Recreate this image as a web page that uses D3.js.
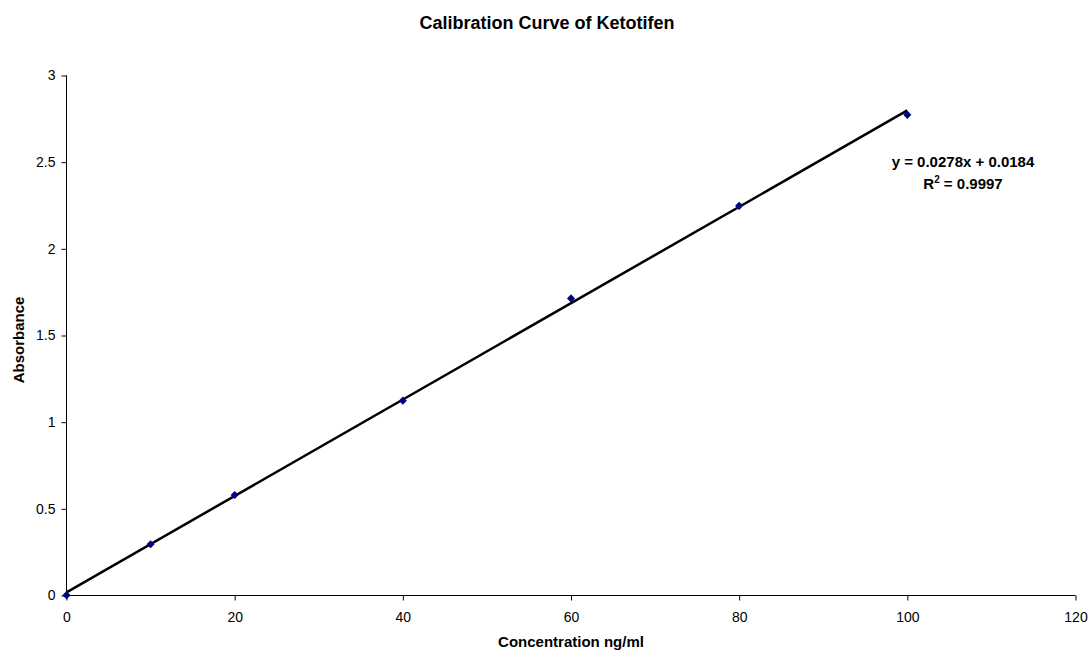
<!DOCTYPE html>
<html><head><meta charset="utf-8">
<script src="https://cdn.jsdelivr.net/npm/d3@7/dist/d3.min.js"></script>
<style>body{margin:0;background:#fff}svg{display:block}text{font-family:Arial,"Liberation Sans",sans-serif}</style>
</head><body>
<svg id="c" width="1089" height="650"></svg>
<script>
const concentrations = [0, 10, 20, 40, 60, 80, 100];
const absorbance = [0.002, 0.296, 0.58, 1.124, 1.714, 2.248, 2.773];
const xTicks = [0, 20, 40, 60, 80, 100, 120];
const yTicks = [0, 0.5, 1, 1.5, 2, 2.5, 3];
const slope = 0.0278, intercept = 0.0184;
const trendRange = [0, 100];

const svg = d3.select("#c");
const x = d3.scaleLinear().domain([0, 120]).range([66.5, 1075.5]);
const y = d3.scaleLinear().domain([0, 3]).range([595.5, 75.5]);

svg.append("text").attr("x", 547).attr("y", 29).attr("text-anchor", "middle")
  .attr("font-size", 18).attr("font-weight", "bold").text("Calibration Curve of Ketotifen");

const xa = svg.append("g").attr("transform", "translate(0,595.5)")
  .call(d3.axisBottom(x).tickValues(xTicks).tickSize(5).tickPadding(12).tickFormat(d3.format("d")));
const ya = svg.append("g").attr("transform", "translate(66.5,0)")
  .call(d3.axisLeft(y).tickValues(yTicks).tickSize(5).tickPadding(6).tickFormat(d => String(d)));
[xa, ya].forEach(a => {
  a.selectAll("path").attr("stroke", "#000");
  a.selectAll("line").attr("stroke", "#000");
  a.selectAll("text").attr("font-size", 14).attr("fill", "#000").attr("font-family", "Arial, 'Liberation Sans', sans-serif");
});
xa.select(".domain").attr("d", "M" + x(0) + ",0H" + x(120));
ya.select(".domain").attr("d", "M0," + y(0) + "V" + y(3));

svg.append("text").attr("x", 571).attr("y", 647).attr("text-anchor", "middle")
  .attr("font-size", 15).attr("font-weight", "bold").text("Concentration ng/ml");
svg.append("text").attr("transform", "translate(24,340) rotate(-90)").attr("text-anchor", "middle")
  .attr("font-size", 15).attr("font-weight", "bold").text("Absorbance");

svg.append("line")
  .attr("x1", x(trendRange[0])).attr("y1", y(slope * trendRange[0] + intercept))
  .attr("x2", x(trendRange[1])).attr("y2", y(slope * trendRange[1] + intercept))
  .attr("stroke", "#000").attr("stroke-width", 2.5);

svg.selectAll("path.pt").data(concentrations).enter().append("path")
  .attr("class", "pt")
  .attr("d", d3.symbol().type(d3.symbolDiamond2).size(42))
  .attr("transform", (d, i) => `translate(${x(d)},${y(absorbance[i])})`)
  .attr("fill", "#000080");

const eq = svg.append("g").attr("font-size", 15).attr("font-weight", "bold");
eq.append("text").attr("x", 963).attr("y", 167).attr("text-anchor", "middle")
  .text("y = 0.0278x + 0.0184");
const r = eq.append("text").attr("x", 963).attr("y", 189).attr("text-anchor", "middle");
r.append("tspan").text("R");
r.append("tspan").attr("dy", -6).attr("font-size", 10).text("2");
r.append("tspan").attr("dy", 6).text(" = 0.9997");
</script>
</body></html>
